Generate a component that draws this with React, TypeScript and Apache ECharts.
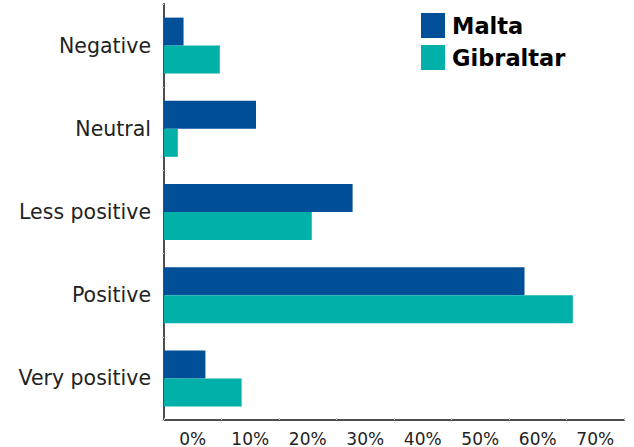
import React, { useEffect, useRef } from "react";
import * as echarts from "echarts";

const categories = ["Negative", "Neutral", "Less positive", "Positive", "Very positive"];
const maltaValues = [3.4, 16.0, 32.8, 62.7, 7.2];
const gibraltarValues = [9.7, 2.4, 25.7, 71.1, 13.5];
const tickLabels = ["0%", "10%", "20%", "30%", "40%", "50%", "60%", "70%"];

export default function App() {
  const ref = useRef<HTMLDivElement>(null);
  useEffect(() => {
    if (!ref.current) return;
    const chart = echarts.init(ref.current, null, { renderer: "svg" });
    chart.setOption({
      animation: false,
      legend: {
        data: ["Malta", "Gibraltar"],
        orient: "vertical",
        left: 421,
        top: 13,
        padding: 0,
        itemWidth: 24,
        itemHeight: 25,
        itemGap: 7,
        icon: "rect",
        textStyle: {
          fontFamily: "DejaVu Sans",
          fontWeight: "bold",
          fontSize: 22.5,
          color: "#000",
          padding: [8, 0, 0, 2],
        },
      },
      grid: { left: 164, right: 10, top: 4, height: 416 },
      xAxis: [
        {
          type: "value",
          min: 0,
          max: 80,
          interval: 10,
          axisLine: { show: true, lineStyle: { color: "#4d4d4d", width: 2 } },
          axisTick: { show: true, inside: true, length: 2, lineStyle: { color: "#c8c8c8" } },
          axisLabel: { show: false },
          splitLine: { show: false },
        },
        {
          type: "category",
          position: "bottom",
          data: tickLabels,
          boundaryGap: true,
          axisLine: { show: false },
          axisTick: { show: false },
          axisLabel: {
            margin: 10,
            fontFamily: "DejaVu Sans",
            fontSize: 17,
            color: "#222",
          },
        },
      ],
      yAxis: {
        type: "category",
        data: categories,
        inverse: true,
        axisLine: { show: true, lineStyle: { color: "#4d4d4d", width: 2 } },
        axisTick: { show: true, length: 2, lineStyle: { color: "#c8c8c8" } },
        axisLabel: {
          margin: 13,
          fontFamily: "DejaVu Sans",
          fontSize: 20.5,
          color: "#222",
          padding: [6, 0, 0, 0],
        },
      },
      series: [
        {
          name: "Malta",
          type: "bar",
          data: maltaValues,
          barWidth: 28,
          barGap: "0%",
          itemStyle: { color: "#004f98" },
        },
        {
          name: "Gibraltar",
          type: "bar",
          data: gibraltarValues,
          barWidth: 28,
          barGap: "0%",
          itemStyle: { color: "#00b0a9" },
        },
      ],
    });
    return () => chart.dispose();
  }, []);
  return <div ref={ref} style={{ width: 634, height: 447, position: "absolute", left: 0, top: 0 }} />;
}
